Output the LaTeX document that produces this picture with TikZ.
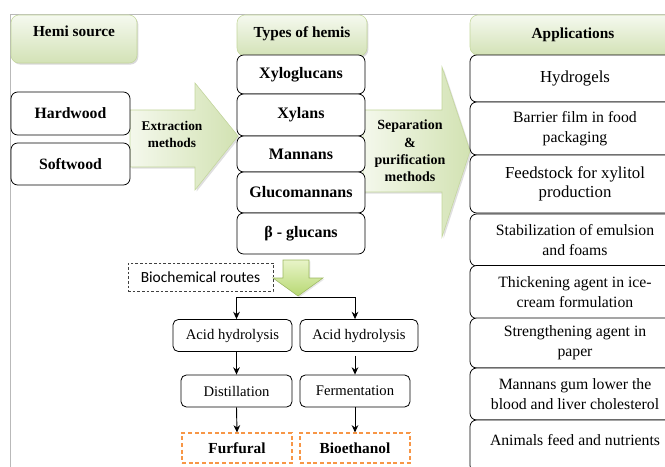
\documentclass[tikz,border=0pt]{standalone}
\usepackage{fontspec}
\setmainfont{Liberation Serif}
\newfontfamily\calibri{Carlito}
\usetikzlibrary{arrows.meta,shadows}

\definecolor{hdrtop}{HTML}{F5F9EF}
\definecolor{hdrbot}{HTML}{D3E2B6}
\definecolor{hdrline}{HTML}{C3D69B}
\definecolor{arrowleft}{HTML}{F4F8EC}
\definecolor{arrowright}{HTML}{D2E2B2}
\definecolor{downtop}{HTML}{E8F4C8}
\definecolor{downbot}{HTML}{B7D872}
\definecolor{prodline}{HTML}{F79646}

\tikzset{
  header/.style={draw=hdrline, rounded corners=6pt, top color=hdrtop, bottom color=hdrbot,
    drop shadow={shadow xshift=1pt, shadow yshift=-1.2pt, opacity=0.3},
    font=\bfseries\fontsize{11.5}{13}\selectfont, inner sep=0pt, text height=8pt},
  srcbox/.style={draw, fill=white, rounded corners=5pt, line width=0.6pt, inner sep=0pt,
    minimum width=89.25pt, font=\bfseries\fontsize{11.8}{13}\selectfont},
  typebox/.style={draw, fill=white, rounded corners=5pt, line width=0.6pt, inner sep=0pt,
    minimum width=96pt, font=\bfseries\fontsize{12}{13}\selectfont},
  appbox/.style={draw, fill=white, rounded corners=5pt, line width=0.6pt, inner sep=0pt,
    minimum width=157.5pt, align=center, font=\fontsize{11.8}{15}\selectfont},
  bigarrow/.style={draw=hdrline, left color=arrowleft, right color=arrowright,
    drop shadow={shadow xshift=1.2pt, shadow yshift=-1.2pt, opacity=0.25}},
  arrowtext/.style={align=center, inner sep=0pt, font=\bfseries\fontsize{10}{12.75}\selectfont},
  stepbox/.style={draw, fill=white, rounded corners=4pt, line width=0.6pt, inner sep=0pt,
    minimum height=24pt, font=\fontsize{11}{13}\selectfont},
  prodbox/.style={draw=prodline, dashed, dash pattern=on 3pt off 2pt, line width=0.8pt, inner sep=0pt,
    minimum width=82.5pt, minimum height=22.5pt, font=\bfseries\fontsize{11.5}{13}\selectfont},
  treearrow/.style={->, line width=0.7pt}
}

\begin{document}
\begin{tikzpicture}[x=0.75pt, y=-0.75pt, >={Stealth[length=5.5pt,width=5pt]}]
    \useasboundingbox (0,0) rectangle (665,467);
    \clip (0,0) rectangle (665,467);

    % Thin frame round the figure
    \draw [gray!55, line width=0.5pt] (10,467) -- (10,14) -- (665,14);

    % Column headers (text sits a little high in each)
    \node [header, minimum width=94.5pt, minimum height=36pt, text depth=12pt] (hemisrc) at (74,39) {Hemi source};
    \node [header, minimum width=97.5pt, minimum height=30.75pt, text depth=5pt] (typeshdr) at (302,35.5) {Types of hemis};
    \node [header, minimum width=154.5pt, minimum height=30pt, text depth=3pt] (appshdr) at (573,35) {Applications};

    % Big block arrows between the columns
    \shade [bigarrow] (130,110) -- (195,110) -- (195,83) -- (238,136) -- (195,190) -- (195,167) -- (130,167) -- cycle;
    \shade [bigarrow] (363,110) -- (442,110) -- (442,67) -- (470,151) -- (442,237) -- (442,192) -- (363,192) -- cycle;
    \node [arrowtext] (extract) at (172,134) {Extraction\\methods};
    \node [arrowtext, font=\bfseries\fontsize{10.5}{13}\selectfont] (separate) at (410,151) {Separation\\\&\\purification\\methods};

    % Sources
    \node [srcbox, minimum height=32.25pt] (hardwood) at (70.5,113.5) {Hardwood};
    \node [srcbox, minimum height=31.5pt] (softwood) at (70.5,164) {Softwood};

    % Types of hemicellulose
    \node [typebox, minimum height=29.25pt] (xylo) at (301,74.5) {Xyloglucans};
    \node [typebox, minimum height=31.5pt] (xylans) at (301,115) {Xylans};
    \node [typebox, minimum height=27pt] (mannans) at (301,154) {Mannans};
    \node [typebox, minimum height=30.75pt] (gluco) at (301,192.5) {Glucomannans};
    \node [typebox, minimum height=30.75pt] (betaglu) at (301,233.5) {β - glucans};

    % Applications
    \node [appbox, minimum height=35.25pt, font=\fontsize{12.6}{15}\selectfont] (hydrogel) at (575,78.5) {Hydrogels};
    \node [appbox, minimum height=39.75pt] (barrier) at (575,128.5) {Barrier film in food\\packaging};
    \node [appbox, minimum height=43.5pt, font=\fontsize{12.6}{14}\selectfont] (feedstock) at (575,184) {Feedstock for xylitol\\production};
    \node [appbox, minimum height=39pt] (emulsion) at (575,240) {Stabilization of emulsion\\and foams};
    \node [appbox, minimum height=39.75pt] (icecream) at (575,292) {Thickening agent in ice-\\cream formulation};
    \node [appbox, minimum height=37.5pt] (paper) at (575,343) {Strengthening agent in\\paper};
    \node [appbox, minimum height=39pt] (cholest) at (575,394) {Mannans gum lower the\\blood and liver cholesterol};
    \node [appbox, minimum height=39pt, text depth=9pt] (feed) at (575,446) {Animals feed and nutrients};

    % Biochemical routes branch
    \node [draw=black!75, dashed, dash pattern=on 2pt off 1.5pt, line width=0.5pt, inner sep=0pt,
           minimum width=108.75pt, minimum height=21pt, font=\calibri\fontsize{11.6}{13}\selectfont] (biochem) at (200.5,277) {Biochemical routes};
    \shade [draw=downbot!85!black, top color=downtop, bottom color=downbot, line width=0.4pt,
            drop shadow={shadow xshift=1pt, shadow yshift=-1pt, opacity=0.2}]
        (283,260) -- (309,260) -- (309,278) -- (323,278) -- (298,296) -- (273,278) -- (283,278) -- cycle;
    \coordinate (split) at (298,297);

    \node [stepbox, minimum width=89.25pt] (ah1) at (232.5,335.5) {Acid hydrolysis};
    \node [stepbox, minimum width=88.5pt] (ah2) at (359,335.5) {Acid hydrolysis};
    \node [stepbox, minimum width=83.25pt] (dist) at (236.5,391) {Distillation};
    \node [stepbox, minimum width=82.5pt] (ferm) at (355,391) {Fermentation};
    \node [prodbox] (furfural) at (237,448) {Furfural};
    \node [prodbox] (bioeth) at (355,448) {Bioethanol};

    % Connectors of the branch
    \draw [treearrow] (split) -| (dist.north |- ah1.north);
    \draw [treearrow] (split) -| (ferm.north |- ah2.north);
    \draw [treearrow] (ah1.south -| dist.north) -- (dist.north);
    \draw [treearrow, shorten <=3pt] (ah2.south -| ferm.north) -- (ferm.north);
    \draw [treearrow] (dist.south) -- (furfural.north);
    \draw [treearrow] (ferm.south) -- (bioeth.north);
\end{tikzpicture}
\end{document}
